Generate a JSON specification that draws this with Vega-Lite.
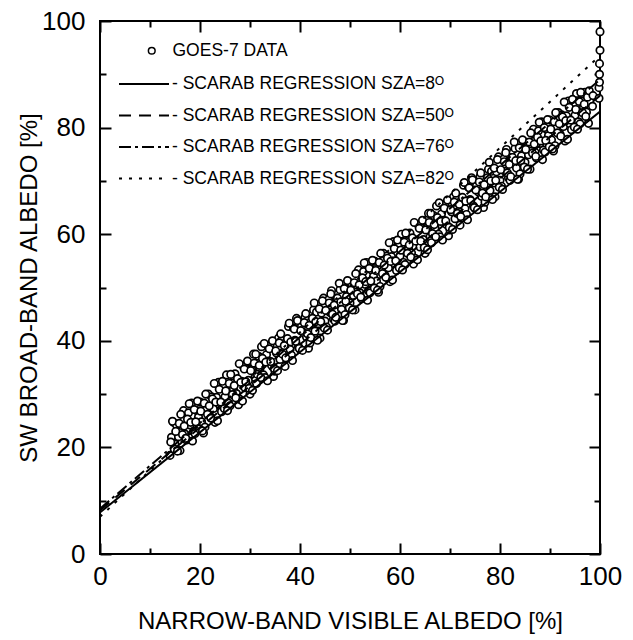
{
  "$schema": "https://vega.github.io/schema/vega-lite/v6.json",
  "width": 500,
  "height": 533,
  "autosize": {"type": "none"},
  "padding": {"left": 100, "top": 21, "right": 33, "bottom": 86},
  "background": "white",
  "config": {
    "view": {"stroke": "black", "strokeWidth": 2},
    "font": "Liberation Sans",
    "axis": {"grid": false, "domain": false, "tickColor": "black", "tickWidth": 2, "labelColor": "black", "titleColor": "black", "labelFont": "Liberation Sans", "titleFont": "Liberation Sans", "labelFontSize": 26, "titleFontSize": 24, "titleFontWeight": "normal"},
    "legend": {"labelFont": "Liberation Sans", "labelFontSize": 17.5, "labelColor": "black", "labelLimit": 0, "padding": 0}
  },
  "datasets": {
    "points": [
      {"x":14,"y":18.5},{"x":14.3,"y":21.9},{"x":14.7,"y":24.7},
      {"x":15,"y":20.6},{"x":15.3,"y":24.2},{"x":15.7,"y":22.0},
      {"x":16,"y":19.4},{"x":16.3,"y":24.1},{"x":16.7,"y":26.9},
      {"x":17,"y":22.5},{"x":17.3,"y":21.4},{"x":17.7,"y":26.5},
      {"x":18,"y":24.2},{"x":18.3,"y":28.3},{"x":18.7,"y":23.0},
      {"x":19,"y":22.6},{"x":19.3,"y":26.9},{"x":19.7,"y":25.7},
      {"x":20,"y":28.5},{"x":20.3,"y":24.8},{"x":20.7,"y":22.7},
      {"x":21,"y":23.8},{"x":21.3,"y":27.2},{"x":21.7,"y":30.0},
      {"x":22,"y":25.9},{"x":22.3,"y":29.5},{"x":22.7,"y":27.3},
      {"x":23,"y":24.7},{"x":23.3,"y":29.4},{"x":23.7,"y":32.2},
      {"x":24,"y":27.8},{"x":24.3,"y":26.7},{"x":24.7,"y":31.8},
      {"x":25,"y":29.5},{"x":25.3,"y":33.6},{"x":25.7,"y":28.3},
      {"x":26,"y":27.8},{"x":26.3,"y":32.1},{"x":26.7,"y":30.9},
      {"x":27,"y":33.8},{"x":27.3,"y":30.1},{"x":27.7,"y":28.0},
      {"x":28,"y":29.0},{"x":28.3,"y":32.4},{"x":28.7,"y":35.2},
      {"x":29,"y":31.2},{"x":29.3,"y":34.8},{"x":29.7,"y":32.6},
      {"x":30,"y":30.0},{"x":30.3,"y":34.7},{"x":30.7,"y":37.5},
      {"x":31,"y":33.1},{"x":31.3,"y":32.0},{"x":31.7,"y":37.1},
      {"x":32,"y":34.8},{"x":32.3,"y":38.9},{"x":32.7,"y":33.6},
      {"x":33,"y":33.1},{"x":33.3,"y":37.4},{"x":33.7,"y":36.2},
      {"x":34,"y":39.1},{"x":34.3,"y":35.4},{"x":34.7,"y":33.3},
      {"x":35,"y":34.3},{"x":35.3,"y":37.7},{"x":35.7,"y":40.5},
      {"x":36,"y":36.5},{"x":36.3,"y":40.1},{"x":36.7,"y":37.9},
      {"x":37,"y":35.2},{"x":37.3,"y":39.9},{"x":37.7,"y":42.7},
      {"x":38,"y":38.4},{"x":38.3,"y":37.3},{"x":38.7,"y":42.4},
      {"x":39,"y":40.1},{"x":39.3,"y":44.2},{"x":39.7,"y":38.9},
      {"x":40,"y":38.4},{"x":40.3,"y":42.7},{"x":40.7,"y":41.5},
      {"x":41,"y":44.4},{"x":41.3,"y":40.7},{"x":41.7,"y":38.6},
      {"x":42,"y":39.6},{"x":42.3,"y":43.0},{"x":42.7,"y":45.8},
      {"x":43,"y":41.8},{"x":43.3,"y":45.4},{"x":43.7,"y":43.2},
      {"x":44,"y":40.5},{"x":44.3,"y":45.2},{"x":44.7,"y":48.0},
      {"x":45,"y":43.7},{"x":45.3,"y":42.6},{"x":45.7,"y":47.7},
      {"x":46,"y":45.3},{"x":46.3,"y":49.4},{"x":46.7,"y":44.1},
      {"x":47,"y":43.7},{"x":47.3,"y":48.0},{"x":47.7,"y":46.8},
      {"x":48,"y":49.6},{"x":48.3,"y":45.9},{"x":48.7,"y":43.8},
      {"x":49,"y":44.9},{"x":49.3,"y":48.3},{"x":49.7,"y":51.1},
      {"x":50,"y":47.1},{"x":50.3,"y":50.7},{"x":50.7,"y":48.5},
      {"x":51,"y":45.8},{"x":51.3,"y":50.5},{"x":51.7,"y":53.3},
      {"x":52,"y":49.0},{"x":52.3,"y":47.9},{"x":52.7,"y":53.0},
      {"x":53,"y":50.6},{"x":53.3,"y":54.7},{"x":53.7,"y":49.4},
      {"x":54,"y":49.0},{"x":54.3,"y":53.3},{"x":54.7,"y":52.1},
      {"x":55,"y":54.9},{"x":55.3,"y":51.2},{"x":55.7,"y":49.1},
      {"x":56,"y":50.2},{"x":56.3,"y":53.6},{"x":56.7,"y":56.4},
      {"x":57,"y":52.3},{"x":57.3,"y":55.9},{"x":57.7,"y":53.7},
      {"x":58,"y":51.1},{"x":58.3,"y":55.8},{"x":58.7,"y":58.6},
      {"x":59,"y":54.3},{"x":59.3,"y":53.2},{"x":59.7,"y":58.3},
      {"x":60,"y":55.9},{"x":60.3,"y":60.0},{"x":60.7,"y":54.7},
      {"x":61,"y":54.3},{"x":61.3,"y":58.6},{"x":61.7,"y":57.4},
      {"x":62,"y":60.2},{"x":62.3,"y":56.5},{"x":62.7,"y":54.4},
      {"x":63,"y":55.5},{"x":63.3,"y":58.9},{"x":63.7,"y":61.7},
      {"x":64,"y":57.6},{"x":64.3,"y":61.2},{"x":64.7,"y":59.0},
      {"x":65,"y":56.4},{"x":65.3,"y":61.1},{"x":65.7,"y":63.9},
      {"x":66,"y":59.5},{"x":66.3,"y":58.4},{"x":66.7,"y":63.5},
      {"x":67,"y":61.2},{"x":67.3,"y":65.3},{"x":67.7,"y":60.0},
      {"x":68,"y":59.5},{"x":68.3,"y":63.8},{"x":68.7,"y":62.6},
      {"x":69,"y":65.5},{"x":69.3,"y":61.8},{"x":69.7,"y":59.7},
      {"x":70,"y":60.8},{"x":70.3,"y":64.2},{"x":70.7,"y":67.0},
      {"x":71,"y":62.9},{"x":71.3,"y":66.5},{"x":71.7,"y":64.3},
      {"x":72,"y":61.7},{"x":72.3,"y":66.4},{"x":72.7,"y":69.2},
      {"x":73,"y":64.8},{"x":73.3,"y":63.7},{"x":73.7,"y":68.8},
      {"x":74,"y":66.5},{"x":74.3,"y":70.6},{"x":74.7,"y":65.3},
      {"x":75,"y":64.8},{"x":75.3,"y":69.1},{"x":75.7,"y":67.9},
      {"x":76,"y":70.8},{"x":76.3,"y":67.1},{"x":76.7,"y":65.0},
      {"x":77,"y":66.0},{"x":77.3,"y":69.4},{"x":77.7,"y":72.2},
      {"x":78,"y":68.2},{"x":78.3,"y":71.8},{"x":78.7,"y":69.6},
      {"x":79,"y":67.0},{"x":79.3,"y":71.7},{"x":79.7,"y":74.5},
      {"x":80,"y":70.1},{"x":80.3,"y":69.0},{"x":80.7,"y":74.1},
      {"x":81,"y":71.8},{"x":81.3,"y":75.9},{"x":81.7,"y":70.6},
      {"x":82,"y":70.1},{"x":82.3,"y":74.4},{"x":82.7,"y":73.2},
      {"x":83,"y":76.1},{"x":83.3,"y":72.4},{"x":83.7,"y":70.3},
      {"x":84,"y":71.3},{"x":84.3,"y":74.7},{"x":84.7,"y":77.5},
      {"x":85,"y":73.5},{"x":85.3,"y":77.1},{"x":85.7,"y":74.9},
      {"x":86,"y":72.2},{"x":86.3,"y":76.9},{"x":86.7,"y":79.7},
      {"x":87,"y":75.4},{"x":87.3,"y":74.3},{"x":87.7,"y":79.4},
      {"x":88,"y":77.0},{"x":88.3,"y":81.1},{"x":88.7,"y":75.8},
      {"x":89,"y":75.4},{"x":89.3,"y":79.7},{"x":89.7,"y":78.5},
      {"x":90,"y":81.4},{"x":90.3,"y":77.7},{"x":90.7,"y":75.6},
      {"x":91,"y":76.6},{"x":91.3,"y":80.0},{"x":91.7,"y":82.8},
      {"x":92,"y":78.8},{"x":92.3,"y":82.4},{"x":92.7,"y":80.2},
      {"x":93,"y":77.5},{"x":93.3,"y":82.2},{"x":93.7,"y":85.0},
      {"x":94,"y":80.7},{"x":94.3,"y":79.6},{"x":94.7,"y":84.7},
      {"x":95,"y":82.3},{"x":95.3,"y":86.4},{"x":95.7,"y":81.1},
      {"x":96,"y":80.7},{"x":96.3,"y":85.0},{"x":96.7,"y":83.8},
      {"x":97,"y":86.6},{"x":97.3,"y":82.9},{"x":97.7,"y":80.8},
      {"x":14.15,"y":21.0},{"x":14.5,"y":24.9},{"x":14.85,"y":19.7},
      {"x":15.15,"y":23.0},{"x":15.5,"y":19.3},{"x":15.85,"y":24.5},
      {"x":16.15,"y":26.2},{"x":16.5,"y":22.4},{"x":16.85,"y":24.0},
      {"x":17.15,"y":21.7},{"x":17.5,"y":25.3},{"x":17.85,"y":28.2},
      {"x":18.15,"y":24.7},{"x":18.5,"y":21.2},{"x":18.85,"y":27.1},
      {"x":19.15,"y":24.8},{"x":19.5,"y":28.7},{"x":19.85,"y":23.5},
      {"x":20.15,"y":26.8},{"x":20.5,"y":23.1},{"x":20.85,"y":28.3},
      {"x":21.15,"y":30.0},{"x":21.5,"y":26.2},{"x":21.85,"y":27.8},
      {"x":22.15,"y":25.5},{"x":22.5,"y":29.1},{"x":22.85,"y":32.0},
      {"x":23.15,"y":28.5},{"x":23.5,"y":25.0},{"x":23.85,"y":30.9},
      {"x":24.15,"y":28.5},{"x":24.5,"y":32.4},{"x":24.85,"y":27.3},
      {"x":25.15,"y":30.6},{"x":25.5,"y":26.9},{"x":25.85,"y":32.0},
      {"x":26.15,"y":33.7},{"x":26.5,"y":29.9},{"x":26.85,"y":31.6},
      {"x":27.15,"y":29.3},{"x":27.5,"y":32.9},{"x":27.85,"y":35.7},
      {"x":28.15,"y":32.2},{"x":28.5,"y":28.7},{"x":28.85,"y":34.7},
      {"x":29.15,"y":32.3},{"x":29.5,"y":36.2},{"x":29.85,"y":31.1},
      {"x":30.15,"y":34.4},{"x":30.5,"y":30.7},{"x":30.85,"y":35.8},
      {"x":31.15,"y":37.5},{"x":31.5,"y":33.7},{"x":31.85,"y":35.4},
      {"x":32.15,"y":33.1},{"x":32.5,"y":36.7},{"x":32.85,"y":39.5},
      {"x":33.15,"y":36.0},{"x":33.5,"y":32.5},{"x":33.85,"y":38.5},
      {"x":34.15,"y":36.1},{"x":34.5,"y":40.0},{"x":34.85,"y":34.8},
      {"x":35.15,"y":38.1},{"x":35.5,"y":34.4},{"x":35.85,"y":39.6},
      {"x":36.15,"y":41.3},{"x":36.5,"y":37.5},{"x":36.85,"y":39.1},
      {"x":37.15,"y":36.8},{"x":37.5,"y":40.4},{"x":37.85,"y":43.3},
      {"x":38.15,"y":39.8},{"x":38.5,"y":36.3},{"x":38.85,"y":42.2},
      {"x":39.15,"y":39.9},{"x":39.5,"y":43.8},{"x":39.85,"y":38.6},
      {"x":40.15,"y":41.9},{"x":40.5,"y":38.2},{"x":40.85,"y":43.4},
      {"x":41.15,"y":45.1},{"x":41.5,"y":41.3},{"x":41.85,"y":42.9},
      {"x":42.15,"y":40.6},{"x":42.5,"y":44.2},{"x":42.85,"y":47.1},
      {"x":43.15,"y":43.6},{"x":43.5,"y":40.1},{"x":43.85,"y":46.0},
      {"x":44.15,"y":43.6},{"x":44.5,"y":47.5},{"x":44.85,"y":42.4},
      {"x":45.15,"y":45.7},{"x":45.5,"y":42.0},{"x":45.85,"y":47.1},
      {"x":46.15,"y":48.8},{"x":46.5,"y":45.0},{"x":46.85,"y":46.7},
      {"x":47.15,"y":44.4},{"x":47.5,"y":48.0},{"x":47.85,"y":50.8},
      {"x":48.15,"y":47.3},{"x":48.5,"y":43.8},{"x":48.85,"y":49.8},
      {"x":49.15,"y":47.4},{"x":49.5,"y":51.3},{"x":49.85,"y":46.2},
      {"x":50.15,"y":49.5},{"x":50.5,"y":45.8},{"x":50.85,"y":50.9},
      {"x":51.15,"y":52.6},{"x":51.5,"y":48.8},{"x":51.85,"y":50.5},
      {"x":52.15,"y":48.2},{"x":52.5,"y":51.8},{"x":52.85,"y":54.6},
      {"x":53.15,"y":51.1},{"x":53.5,"y":47.6},{"x":53.85,"y":53.6},
      {"x":54.15,"y":51.2},{"x":54.5,"y":55.1},{"x":54.85,"y":49.9},
      {"x":55.15,"y":53.2},{"x":55.5,"y":49.5},{"x":55.85,"y":54.7},
      {"x":56.15,"y":56.4},{"x":56.5,"y":52.6},{"x":56.85,"y":54.2},
      {"x":57.15,"y":51.9},{"x":57.5,"y":55.5},{"x":57.85,"y":58.4},
      {"x":58.15,"y":54.9},{"x":58.5,"y":51.4},{"x":58.85,"y":57.3},
      {"x":59.15,"y":55.0},{"x":59.5,"y":58.9},{"x":59.85,"y":53.7},
      {"x":60.15,"y":57.0},{"x":60.5,"y":53.3},{"x":60.85,"y":58.5},
      {"x":61.15,"y":60.2},{"x":61.5,"y":56.4},{"x":61.85,"y":58.0},
      {"x":62.15,"y":55.7},{"x":62.5,"y":59.3},{"x":62.85,"y":62.2},
      {"x":63.15,"y":58.7},{"x":63.5,"y":55.2},{"x":63.85,"y":61.1},
      {"x":64.15,"y":58.7},{"x":64.5,"y":62.6},{"x":64.85,"y":57.5},
      {"x":65.15,"y":60.8},{"x":65.5,"y":57.1},{"x":65.85,"y":62.2},
      {"x":66.15,"y":63.9},{"x":66.5,"y":60.1},{"x":66.85,"y":61.8},
      {"x":67.15,"y":59.5},{"x":67.5,"y":63.1},{"x":67.85,"y":65.9},
      {"x":68.15,"y":62.4},{"x":68.5,"y":58.9},{"x":68.85,"y":64.9},
      {"x":69.15,"y":62.5},{"x":69.5,"y":66.4},{"x":69.85,"y":61.3},
      {"x":70.15,"y":64.6},{"x":70.5,"y":60.9},{"x":70.85,"y":66.0},
      {"x":71.15,"y":67.7},{"x":71.5,"y":63.9},{"x":71.85,"y":65.6},
      {"x":72.15,"y":63.3},{"x":72.5,"y":66.9},{"x":72.85,"y":69.7},
      {"x":73.15,"y":66.2},{"x":73.5,"y":62.7},{"x":73.85,"y":68.7},
      {"x":74.15,"y":66.3},{"x":74.5,"y":70.2},{"x":74.85,"y":65.0},
      {"x":75.15,"y":68.3},{"x":75.5,"y":64.6},{"x":75.85,"y":69.8},
      {"x":76.15,"y":71.5},{"x":76.5,"y":67.7},{"x":76.85,"y":69.3},
      {"x":77.15,"y":67.0},{"x":77.5,"y":70.6},{"x":77.85,"y":73.5},
      {"x":78.15,"y":70.0},{"x":78.5,"y":66.5},{"x":78.85,"y":72.4},
      {"x":79.15,"y":70.1},{"x":79.5,"y":74.0},{"x":79.85,"y":68.8},
      {"x":80.15,"y":72.1},{"x":80.5,"y":68.4},{"x":80.85,"y":73.6},
      {"x":81.15,"y":75.3},{"x":81.5,"y":71.5},{"x":81.85,"y":73.1},
      {"x":82.15,"y":70.8},{"x":82.5,"y":74.4},{"x":82.85,"y":77.3},
      {"x":83.15,"y":73.8},{"x":83.5,"y":70.3},{"x":83.85,"y":76.2},
      {"x":84.15,"y":73.8},{"x":84.5,"y":77.7},{"x":84.85,"y":72.6},
      {"x":85.15,"y":75.9},{"x":85.5,"y":72.2},{"x":85.85,"y":77.3},
      {"x":86.15,"y":79.0},{"x":86.5,"y":75.2},{"x":86.85,"y":76.9},
      {"x":87.15,"y":74.6},{"x":87.5,"y":78.2},{"x":87.85,"y":81.0},
      {"x":88.15,"y":77.5},{"x":88.5,"y":74.0},{"x":88.85,"y":80.0},
      {"x":89.15,"y":77.6},{"x":89.5,"y":81.5},{"x":89.85,"y":76.4},
      {"x":90.15,"y":79.7},{"x":90.5,"y":76.0},{"x":90.85,"y":81.1},
      {"x":91.15,"y":82.8},{"x":91.5,"y":79.0},{"x":91.85,"y":80.7},
      {"x":92.15,"y":78.4},{"x":92.5,"y":82.0},{"x":92.85,"y":84.8},
      {"x":93.15,"y":81.3},{"x":93.5,"y":77.8},{"x":93.85,"y":83.8},
      {"x":94.15,"y":81.4},{"x":94.5,"y":85.3},{"x":94.85,"y":80.1},
      {"x":95.15,"y":83.4},{"x":95.5,"y":79.7},{"x":95.85,"y":84.9},
      {"x":96.15,"y":86.6},{"x":96.5,"y":82.8},{"x":96.85,"y":84.4},
      {"x":97.15,"y":82.1},{"x":97.5,"y":85.7},{"x":97.85,"y":86.9},
      {"x":98.5,"y":84.0},{"x":98.6,"y":86.0},
      {"x":99.8,"y":85.5},{"x":99.8,"y":87.5},{"x":99.9,"y":88.5},{"x":99.9,"y":90.0},{"x":99.9,"y":92.0},{"x":100,"y":94.5},{"x":100,"y":98.0}
    ],
    "lines": [
      {"series":"- SCARAB REGRESSION SZA=8ᴼ","x":0,"y":7.8},
      {"series":"- SCARAB REGRESSION SZA=8ᴼ","x":100,"y":83.0},
      {"series":"- SCARAB REGRESSION SZA=50ᴼ","x":0,"y":8.2},
      {"series":"- SCARAB REGRESSION SZA=50ᴼ","x":100,"y":86.0},
      {"series":"- SCARAB REGRESSION SZA=76ᴼ","x":0,"y":8.5},
      {"series":"- SCARAB REGRESSION SZA=76ᴼ","x":100,"y":89.0},
      {"series":"- SCARAB REGRESSION SZA=82ᴼ","x":0,"y":7.0},
      {"series":"- SCARAB REGRESSION SZA=82ᴼ","x":100,"y":93.5}
    ]
  },
  "layer": [
    {
      "data": {"name": "points"},
      "transform": [{"calculate": "'GOES-7 DATA'", "as": "src"}],
      "mark": {"type": "point", "shape": "circle", "filled": true, "fill": "white", "stroke": "black", "strokeWidth": 1.7, "size": 55, "opacity": 1},
      "encoding": {
        "x": {"field": "x", "type": "quantitative", "scale": {"domain": [0, 100], "nice": false},
          "axis": {"orient": "bottom", "title": "NARROW-BAND VISIBLE ALBEDO [%]", "values": [0,10,20,30,40,50,60,70,80,90,100],
            "labelExpr": "datum.value % 20 === 0 ? datum.label : ''",
            "tickSize": {"condition": {"test": "datum.value % 20 === 0", "value": -11}, "value": -6},
            "labelPadding": 20, "titlePadding": 20, "labelFlush": false}},
        "y": {"field": "y", "type": "quantitative", "scale": {"domain": [0, 100], "nice": false},
          "axis": {"orient": "left", "title": "SW BROAD-BAND ALBEDO [%]", "values": [0,10,20,30,40,50,60,70,80,90,100],
            "labelExpr": "datum.value % 20 === 0 ? datum.label : ''",
            "tickSize": {"condition": {"test": "datum.value % 20 === 0", "value": -11}, "value": -6},
            "labelPadding": 26, "titlePadding": 0, "labelFlush": false}},
        "shape": {"field": "src", "type": "nominal", "scale": {"range": ["circle"]},
          "legend": {"title": null, "orient": "none", "legendX": 43, "legendY": 21, "symbolSize": 45, "labelOffset": 12,
            "encode": {"symbols": {"update": {"stroke": {"value": "black"}, "fill": {"value": "white"}, "strokeWidth": {"value": 1.2}, "opacity": {"value": 1}}}}}}
      }
    },
    {
      "data": {"name": "lines"},
      "mark": {"type": "line", "color": "black", "strokeWidth": 2},
      "encoding": {
        "x": {"field": "x", "type": "quantitative",
          "axis": {"orient": "top", "title": null, "labels": false, "values": [0,10,20,30,40,50,60,70,80,90,100],
            "tickSize": {"condition": {"test": "datum.value % 20 === 0", "value": -11}, "value": -6}}},
        "y": {"field": "y", "type": "quantitative",
          "axis": {"orient": "right", "title": null, "labels": false, "values": [0,10,20,30,40,50,60,70,80,90,100],
            "tickSize": {"condition": {"test": "datum.value % 20 === 0", "value": -11}, "value": -6}}},
        "strokeDash": {"field": "series", "type": "nominal",
          "scale": {"domain": ["- SCARAB REGRESSION SZA=8ᴼ","- SCARAB REGRESSION SZA=50ᴼ","- SCARAB REGRESSION SZA=76ᴼ","- SCARAB REGRESSION SZA=82ᴼ"],
            "range": [[1,0],[12,8],[12,4,3,4],[3,7]]},
          "legend": {"title": null, "orient": "none", "legendX": 33, "legendY": 52, "symbolType": "M-2.5,0H2.5", "symbolSize": 400, "symbolStrokeWidth": 2, "symbolStrokeColor": "black", "symbolFillColor": "transparent", "labelOffset": 17, "rowPadding": 11.5}}
      }
    }
  ],
  "resolve": {"axis": {"x": "independent", "y": "independent"}}
}
